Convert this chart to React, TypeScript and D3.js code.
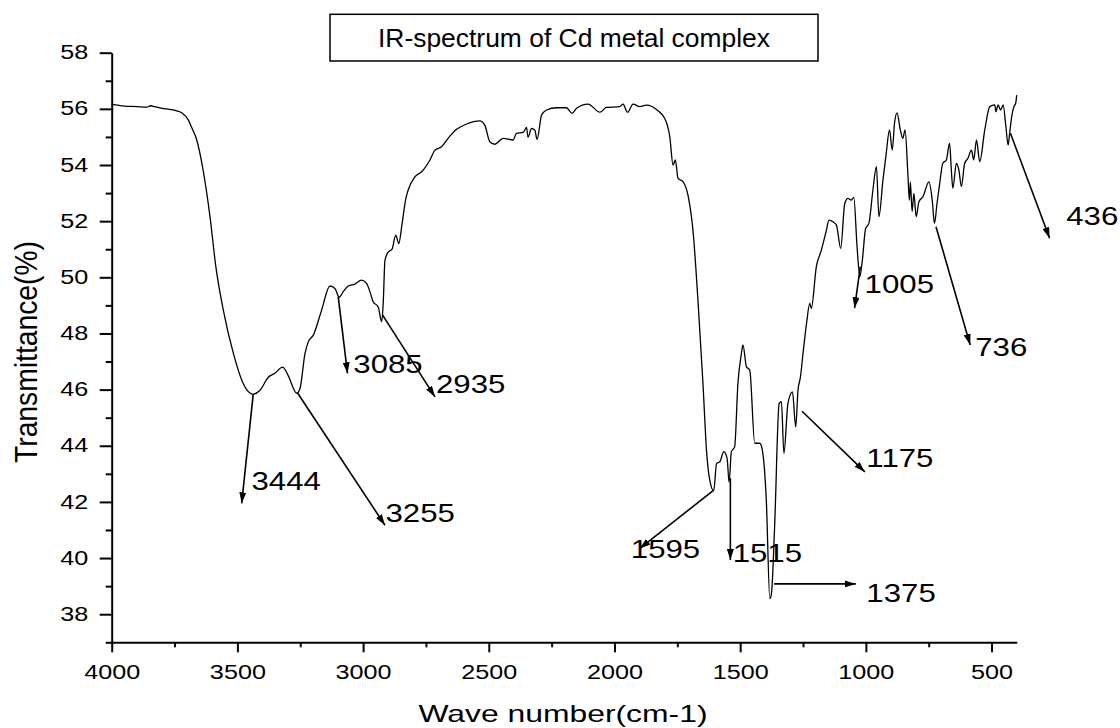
import React, { useRef, useEffect } from 'react';
import * as d3 from 'd3';

// spectrum (wave number, transmittance %)
const waveNumbers = [
  4000, 3950, 3900, 3860, 3845, 3830, 3800, 3770, 3742, 3720, 3695, 3680, 3662, 3636, 3609, 3586,
  3556, 3516, 3477, 3444, 3437, 3410, 3377, 3351, 3320, 3298, 3264, 3251, 3231, 3218, 3198, 3165,
  3132, 3112, 3095, 3079, 3059, 3033, 3006, 2986, 2973, 2960, 2940, 2926, 2920, 2913, 2900, 2885,
  2870, 2858, 2845, 2830, 2821, 2794, 2767, 2734, 2714, 2688, 2662, 2628, 2588, 2536, 2516, 2496,
  2476, 2443, 2403, 2390, 2363, 2350, 2344, 2330, 2317, 2308, 2290, 2270, 2231, 2191, 2168, 2151,
  2105, 2058, 2032, 1979, 1966, 1948, 1926, 1899, 1873, 1827, 1800, 1780, 1767, 1758, 1747, 1727,
  1707, 1687, 1668, 1648, 1634, 1621, 1605, 1594, 1581, 1565, 1552, 1544, 1535, 1522, 1509, 1495,
  1489, 1475, 1462, 1442, 1422, 1412, 1396, 1382, 1376, 1363, 1345, 1336, 1326, 1310, 1292, 1279,
  1270, 1260, 1250, 1236, 1223, 1217, 1197, 1177, 1157, 1147, 1131, 1117, 1100, 1084, 1071, 1058,
  1048, 1035, 1024, 1014, 1001, 988, 972, 958, 948, 932, 919, 906, 895, 886, 876, 863,
  853, 844, 833, 827, 823, 816, 809, 800, 789, 773, 749, 736, 727, 717, 707, 694,
  680, 667, 660, 654, 640, 630, 620, 607, 594, 580, 571, 560, 547, 527, 507, 487,
  483, 474, 464, 454, 443, 434, 428, 419, 411, 404, 400,
];
const transmittance = [
  56.16, 56.1, 56.08, 56.06, 56.11, 56.08, 56.02, 55.98, 55.93, 55.85, 55.6, 55.3, 54.9, 53.8, 52.16, 50.4,
  48.83, 47.29, 46.22, 45.85, 45.84, 45.98, 46.44, 46.58, 46.8, 46.5, 45.87, 46.04, 47.29, 47.7, 47.94, 48.83,
  49.69, 49.6, 49.29, 49.49, 49.69, 49.76, 49.9, 49.78, 49.49, 49.13, 48.95, 48.42, 49.07, 50.6, 50.9, 51.0,
  51.5, 51.2, 51.9, 52.8, 53.1, 53.58, 53.76, 54.18, 54.53, 54.65, 54.95, 55.27, 55.46, 55.57, 55.42, 54.83,
  54.74, 54.95, 54.89, 55.13, 55.16, 55.34, 54.99, 55.3, 55.25, 54.91, 55.78, 55.96, 56.04, 56.04, 55.84, 56.02,
  56.17, 55.88, 56.05, 56.08, 56.17, 55.88, 56.17, 56.08, 56.13, 55.93, 55.66, 55.01, 54.0, 54.18, 53.52, 53.4,
  52.9, 51.6, 49.19, 46.22, 43.85, 42.78, 42.4, 43.37, 43.43, 43.79, 43.55, 42.7, 43.79, 43.96, 46.22, 47.29,
  47.59, 46.81, 46.7, 44.09, 44.09, 43.85, 42.06, 38.56, 38.7, 41.11, 45.5, 45.57, 43.73, 45.51, 45.92, 44.67,
  45.98, 46.46, 47.29, 48.36, 49.07, 48.89, 50.38, 50.97, 51.68, 52.04, 51.98, 51.86, 51.03, 52.63, 52.81, 52.75,
  52.85, 51.09, 50.02, 50.61, 51.74, 51.92, 53.11, 53.94, 52.16, 53.47, 54.42, 55.25, 54.53, 55.49, 55.86, 55.25,
  54.95, 55.25, 53.7, 52.75, 53.4, 52.34, 52.99, 52.16, 52.69, 52.87, 53.4, 52.75, 51.92, 52.63, 53.29, 54.06,
  54.18, 54.77, 53.82, 53.17, 54.06, 53.82, 53.23, 54.06, 54.24, 54.53, 54.18, 54.89, 54.12, 55.25, 56.08, 56.14,
  55.9, 56.14, 55.96, 56.14, 55.37, 54.71, 55.13, 55.78, 56.08, 56.2, 56.49,
];

const xMajorTicks = [4000, 3500, 3000, 2500, 2000, 1500, 1000, 500];
const xMinorTicks = [3750, 3250, 2750, 2250, 1750, 1250, 750];
const yMajorTicks = [38, 40, 42, 44, 46, 48, 50, 52, 54, 56, 58];
const yMinorTicks = [37, 39, 41, 43, 45, 47, 49, 51, 53, 55, 57];

// peak annotations: arrow from the curve to the label
const peakLabels = ["3444", "3255", "3085", "2935", "1595", "1515", "1375", "1175", "1005", "736", "436"];
const arrowFromWn = [3437, 3260, 3099, 2923, 1605, 1539, 1365, 1254, 1022, 721, 425];
const arrowFromT = [45.84, 45.87, 49.31, 48.66, 42.42, 42.84, 39.08, 45.23, 50.38, 51.8, 55.13];
const arrowToWn = [3483, 2913, 3062, 2714, 1900, 1539, 1040, 1004, 1045, 585, 269];
const arrowToT = [41.95, 41.17, 46.58, 45.74, 40.34, 39.93, 39.08, 43.07, 48.9, 47.59, 51.39];
const labelWn = [3444, 2911, 3039, 2710, 1935, 1530, 998, 998, 1005, 565, 203];
const labelT = [42.42, 41.29, 46.6, 45.87, 40.0, 39.87, 38.44, 43.25, 49.43, 47.2, 51.86];

const chartTitle = "IR-spectrum of Cd metal complex";
const xTitle = "Wave number(cm-1)";
const yTitle = "Transmittance(%)";

export default function App() {
  const svgRef = useRef<SVGSVGElement>(null);

  useEffect(() => {
    const svg = d3.select(svgRef.current);
    svg.selectAll("*").remove();
    const font = "Arial, 'Liberation Sans', sans-serif";

    const x = d3.scaleLinear().domain([4000, 400]).range([111.7, 1016.7]);
    const y = d3.scaleLinear().domain([37, 58]).range([642.3, 52.7]);

    svg.append("defs").append("marker")
      .attr("id", "arrowHead")
      .attr("viewBox", "0 0 11 7")
      .attr("refX", 11).attr("refY", 3.5)
      .attr("markerWidth", 11).attr("markerHeight", 7)
      .attr("markerUnits", "userSpaceOnUse")
      .attr("preserveAspectRatio", "none")
      .attr("orient", "auto")
      .append("path").attr("d", "M0,0L11,3.5L0,7Z").attr("fill", "#000");

    // x axis
    const gx = svg.append("g").attr("transform", `translate(0,${y(37)})`)
      .call(d3.axisBottom(x).tickValues(xMajorTicks).tickSize(10).tickSizeOuter(0).tickFormat(d3.format("d")));
    svg.append("g").attr("transform", `translate(0,${y(37)})`)
      .call(d3.axisBottom(x).tickValues(xMinorTicks).tickSize(5).tickFormat(() => ""))
      .call(g => g.select(".domain").remove());

    // y axis
    const gy = svg.append("g").attr("transform", `translate(${x(4000)},0)`)
      .call(d3.axisLeft(y).tickValues(yMajorTicks).tickSize(12).tickSizeOuter(0));
    svg.append("g").attr("transform", `translate(${x(4000)},0)`)
      .call(d3.axisLeft(y).tickValues(yMinorTicks).tickSize(6).tickFormat(() => ""))
      .call(g => g.select(".domain").remove());

    svg.selectAll(".domain, .tick line").attr("stroke", "#000").attr("stroke-width", 2);

    gx.selectAll(".tick text")
      .attr("y", 36.7).attr("dy", 0)
      .attr("transform", "scale(1.2,1)")
      .attr("font-size", 21).attr("font-family", font).attr("fill", "#000");
    gy.selectAll(".tick text")
      .attr("x", -19.5).attr("dy", "0.29em")
      .attr("transform", "scale(1.2,1)")
      .attr("font-size", 21).attr("font-family", font).attr("fill", "#000");

    // spectrum
    const line = d3.line<number>()
      .x((d, i) => x(waveNumbers[i]))
      .y(d => y(d))
      .curve(d3.curveMonotoneX);
    svg.append("path")
      .datum(transmittance)
      .attr("d", line)
      .attr("fill", "none")
      .attr("stroke", "#000")
      .attr("stroke-width", 1.3);

    // peak arrows + labels
    peakLabels.forEach((lab, i) => {
      svg.append("line")
        .attr("x1", x(arrowFromWn[i])).attr("y1", y(arrowFromT[i]))
        .attr("x2", x(arrowToWn[i])).attr("y2", y(arrowToT[i]))
        .attr("stroke", "#000").attr("stroke-width", 1.6)
        .attr("marker-end", "url(#arrowHead)");
      svg.append("text")
        .attr("transform", `translate(${x(labelWn[i])},${y(labelT[i])}) scale(1.2,1)`)
        .attr("font-size", 26).attr("font-family", font).attr("fill", "#000")
        .text(lab);
    });

    // title box
    svg.append("rect")
      .attr("x", 330).attr("y", 14.3).attr("width", 488).attr("height", 46.7)
      .attr("fill", "#fff").attr("stroke", "#000").attr("stroke-width", 1.5);
    svg.append("text")
      .attr("x", 574).attr("y", 46.5)
      .attr("text-anchor", "middle")
      .attr("font-size", 25).attr("font-family", font)
      .attr("textLength", 392).attr("lengthAdjust", "spacingAndGlyphs")
      .text(chartTitle);

    // axis titles
    svg.append("text")
      .attr("x", 563).attr("y", 721.5)
      .attr("text-anchor", "middle")
      .attr("font-size", 24).attr("font-family", font)
      .attr("textLength", 289).attr("lengthAdjust", "spacingAndGlyphs")
      .text(xTitle);
    svg.append("text")
      .attr("transform", "translate(37,352) scale(1.15,1) rotate(-90)")
      .attr("text-anchor", "middle")
      .attr("font-size", 27).attr("font-family", font)
      .attr("textLength", 222).attr("lengthAdjust", "spacingAndGlyphs")
      .text(yTitle);
  }, []);

  return (
    <svg
      ref={svgRef}
      width={1120}
      height={728}
      style={{ position: 'absolute', left: 0, top: 0, display: 'block', background: '#fff' }}
    />
  );
}
